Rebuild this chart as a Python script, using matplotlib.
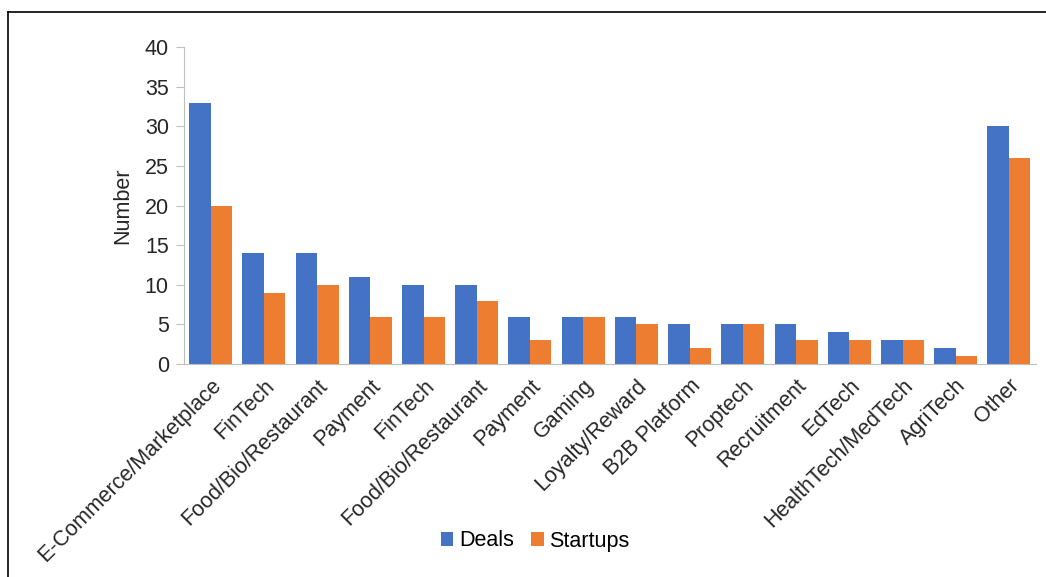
import matplotlib
matplotlib.use('Agg')
import matplotlib.pyplot as plt
from matplotlib.lines import Line2D
import numpy as np

plt.rcParams['font.family'] = ['Liberation Sans', 'DejaVu Sans']

categories = ['E-Commerce/Marketplace', 'FinTech', 'Food/Bio/Restaurant', 'Payment', 'FinTech',
              'Food/Bio/Restaurant', 'Payment', 'Gaming', 'Loyalty/Reward', 'B2B Platform',
              'Proptech', 'Recruitment', 'EdTech', 'HealthTech/MedTech', 'AgriTech', 'Other']
deals = [33, 14, 14, 11, 10, 10, 6, 6, 6, 5, 5, 5, 4, 3, 2, 30]
startups = [20, 9, 10, 6, 6, 8, 3, 6, 5, 2, 5, 3, 3, 3, 1, 26]

c_deals = '#4472C4'
c_startups = '#ED7D31'
c_axis = '#BFBFBF'
fs = 15.5

fig = plt.figure(figsize=(10.46, 5.77), dpi=100)
ax = fig.add_axes([0.176, 0.369, 0.814, 0.5495])

x = np.arange(len(categories))
w = 0.404
ax.bar(x - w / 2, deals, width=w, color=c_deals, label='Deals')
ax.bar(x + w / 2, startups, width=w, color=c_startups, label='Startups')

ax.set_xlim(-0.5, len(categories) - 0.5)
ax.set_ylim(0, 40)
ax.set_yticks(range(0, 41, 5))
ax.tick_params(axis='y', labelsize=fs, length=6, color=c_axis, pad=5)
for t in ax.get_yticklabels():
    t.set_color('#262626')
ax.set_xticks(x)
ax.set_xticklabels(categories, rotation=45, ha='right', rotation_mode='anchor', fontsize=fs, color='#262626')
ax.tick_params(axis='x', length=0, pad=8)

for s in ['top', 'right']:
    ax.spines[s].set_visible(False)
ax.spines['left'].set_color(c_axis)
ax.spines['bottom'].set_color(c_axis)
ax.set_ylabel('Number', fontsize=fs, color='#262626', labelpad=8)

fig.legend(loc='center', bbox_to_anchor=(535 / 1046, 1 - 541 / 577), ncol=2, frameon=False,
           fontsize=fs, handlelength=0.6, handleheight=0.6, handletextpad=0.25, columnspacing=0.8)

# frame around the chart, cropped on right/bottom
fig.add_artist(Line2D([8 / 1046, 8 / 1046], [0, 1 - 12 / 577], color='black', lw=1.2, transform=fig.transFigure))
fig.add_artist(Line2D([8 / 1046, 1], [1 - 12 / 577, 1 - 12 / 577], color='black', lw=1.2, transform=fig.transFigure))

fig.savefig('out.png', dpi=100)
